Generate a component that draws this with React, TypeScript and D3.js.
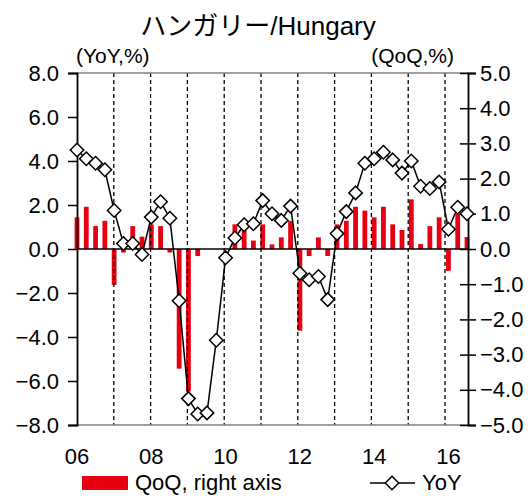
import * as d3 from "d3";
import React, { useEffect, useRef } from "react";

// quarterly categories, 2006Q1 .. 2016Q3
const QUARTERS = [
  "06Q1", "06Q2", "06Q3", "06Q4", "07Q1", "07Q2", "07Q3", "07Q4",
  "08Q1", "08Q2", "08Q3", "08Q4", "09Q1", "09Q2", "09Q3", "09Q4",
  "10Q1", "10Q2", "10Q3", "10Q4", "11Q1", "11Q2", "11Q3", "11Q4",
  "12Q1", "12Q2", "12Q3", "12Q4", "13Q1", "13Q2", "13Q3", "13Q4",
  "14Q1", "14Q2", "14Q3", "14Q4", "15Q1", "15Q2", "15Q3", "15Q4",
  "16Q1", "16Q2", "16Q3",
];

// YoY (left axis)
const YOY = [
  4.5, 4.1, 3.9, 3.6, 1.75, 0.25, 0.25, -0.25,
  1.45, 2.15, 1.4, -2.35, -6.8, -7.5, -7.45, -4.15,
  -0.4, 0.5, 1.1, 1.15, 2.2, 1.6, 1.3, 1.95,
  -1.1, -1.4, -1.25, -2.3, 0.7, 1.7, 2.55, 3.9,
  4.1, 4.4, 4.05, 3.45, 4.0, 2.85, 2.75, 3.05,
  0.9, 1.9, 1.6,
];

// QoQ (right axis)
const QOQ = [
  0.9, 1.2, 0.65, 0.8, -1.02, -0.1, 0.65, 0.35,
  0.7, 0.65, -0.1, -3.4, -4.05, -0.2, 0, 0,
  0, 0.7, 0.54, 0.24, 0.7, 0.13, 0.33, 0.8,
  -2.32, -0.2, 0.33, -0.2, 0.7, 0.8, 1.2, 1.09,
  0.9, 1.2, 0.7, 0.54, 1.41, 0.14, 0.65, 0.9,
  -0.62, 1.0, 0.34,
];

const X_LABELS = ["06", "08", "10", "12", "14", "16"];
const YEAR_LINES = [2007, 2008, 2009, 2010, 2011, 2012, 2013, 2014, 2015, 2016];
const LEFT_TICKS = [8, 6, 4, 2, 0, -2, -4, -6, -8];
const RIGHT_TICKS = [5, 4, 3, 2, 1, 0, -1, -2, -3, -4, -5];

const FONT = "'Liberation Sans', Arial, 'Noto Sans CJK JP', sans-serif";
const RED = "#e60012";

function drawChart(el: SVGSVGElement) {
  const svg = d3.select(el);
  svg.selectAll("*").remove();

  const left = 77, right = 468, top = 73, bottom = 425;

  const x = d3.scaleLinear().domain([0, QUARTERS.length - 1]).range([left, 467]);
  const xYear = d3.scaleLinear().domain([2006, 2016]).range([left, 445]);
  const yL = d3.scaleLinear().domain([-8, 8]).range([bottom, top]);
  const yR = d3.scaleLinear().domain([-5, 5]).range([bottom, top]);

  // bars
  const bw = 4.8;
  svg
    .append("g")
    .selectAll("rect")
    .data(QOQ)
    .join("rect")
    .attr("x", (d, i) => x(i) - bw / 2)
    .attr("y", d => Math.min(yR(d), yR(0)))
    .attr("width", bw)
    .attr("height", d => Math.abs(yR(d) - yR(0)))
    .attr("fill", RED);

  // dashed year lines
  svg
    .append("g")
    .selectAll("line")
    .data(YEAR_LINES)
    .join("line")
    .attr("x1", d => xYear(d))
    .attr("x2", d => xYear(d))
    .attr("y1", top)
    .attr("y2", bottom)
    .attr("stroke", "#000")
    .attr("stroke-width", 1.3)
    .attr("stroke-dasharray", "4,3");

  // frame top / bottom
  svg.append("line").attr("x1", left).attr("x2", right).attr("y1", top).attr("y2", top)
    .attr("stroke", "#808080").attr("stroke-width", 1.3);
  svg.append("line").attr("x1", left).attr("x2", right).attr("y1", bottom).attr("y2", bottom)
    .attr("stroke", "#808080").attr("stroke-width", 1.3);

  // zero line
  svg.append("line").attr("x1", left).attr("x2", right).attr("y1", yL(0)).attr("y2", yL(0))
    .attr("stroke", "#000").attr("stroke-width", 1.5);

  // left axis
  const gl = svg.append("g").attr("transform", `translate(${left},0)`)
    .call(d3.axisLeft(yL).tickValues(LEFT_TICKS).tickSize(9).tickPadding(9).tickFormat(d3.format(".1f")));
  gl.select(".domain").attr("stroke-width", 1.8);
  gl.selectAll(".tick line").attr("stroke-width", 1.5);
  gl.selectAll("text").attr("font-size", 22).attr("font-family", FONT).attr("fill", "#000");

  // right axis, ticks crossing
  const gr = svg.append("g").attr("transform", `translate(${right},0)`)
    .call(d3.axisRight(yR).tickValues(RIGHT_TICKS).tickSize(8).tickPadding(4).tickFormat(d3.format(".1f")));
  gr.select(".domain").attr("stroke-width", 1.8);
  gr.selectAll(".tick line").attr("x1", -8).attr("stroke-width", 1.5);
  gr.selectAll("text").attr("font-size", 22).attr("font-family", FONT).attr("fill", "#000");

  // x labels
  svg
    .append("g")
    .selectAll("text")
    .data(X_LABELS)
    .join("text")
    .attr("x", d => x(QUARTERS.indexOf(d + "Q1")))
    .attr("y", 464)
    .attr("text-anchor", "middle")
    .attr("font-size", 22)
    .attr("font-family", FONT)
    .text(d => d);

  // YoY line
  const line = d3.line<number>().x((d, i) => x(i)).y(d => yL(d));
  svg.append("path").datum(YOY).attr("d", line).attr("fill", "none")
    .attr("stroke", "#000").attr("stroke-width", 1.5);

  const diamond = d3.symbol().type(d3.symbolDiamond2).size(115);
  svg
    .append("g")
    .selectAll("path")
    .data(YOY)
    .join("path")
    .attr("d", diamond)
    .attr("transform", (d, i) => `translate(${x(i)},${yL(d)})`)
    .attr("fill", "#fff")
    .attr("stroke", "#000")
    .attr("stroke-width", 1.5);

  // titles
  svg.append("text").attr("x", 258).attr("y", 35).attr("text-anchor", "middle")
    .attr("font-size", 26).attr("font-family", FONT).text("ハンガリー/Hungary");
  svg.append("text").attr("x", 76).attr("y", 63).attr("font-size", 21)
    .attr("font-family", FONT).text("(YoY,%)");
  svg.append("text").attr("x", 454).attr("y", 63).attr("text-anchor", "end").attr("font-size", 21)
    .attr("font-family", FONT).text("(QoQ,%)");

  // legend
  svg.append("rect").attr("x", 82).attr("y", 476).attr("width", 46).attr("height", 14).attr("fill", RED);
  svg.append("text").attr("x", 135).attr("y", 490).attr("font-size", 22)
    .attr("font-family", FONT).text("QoQ, right axis");
  svg.append("line").attr("x1", 370).attr("x2", 415).attr("y1", 483).attr("y2", 483)
    .attr("stroke", "#000").attr("stroke-width", 1.5);
  svg.append("path").attr("d", diamond).attr("transform", "translate(392,483)")
    .attr("fill", "#fff").attr("stroke", "#000").attr("stroke-width", 1.5);
  svg.append("text").attr("x", 422).attr("y", 490).attr("font-size", 22)
    .attr("font-family", FONT).text("YoY");
}

export default function App() {
  const ref = useRef<SVGSVGElement>(null);

  useEffect(() => {
    if (ref.current) drawChart(ref.current);
  }, []);

  return (
    <svg
      ref={ref}
      width={532}
      height={496}
      style={{ position: "absolute", left: 0, top: 0, background: "#fff" }}
    />
  );
}
